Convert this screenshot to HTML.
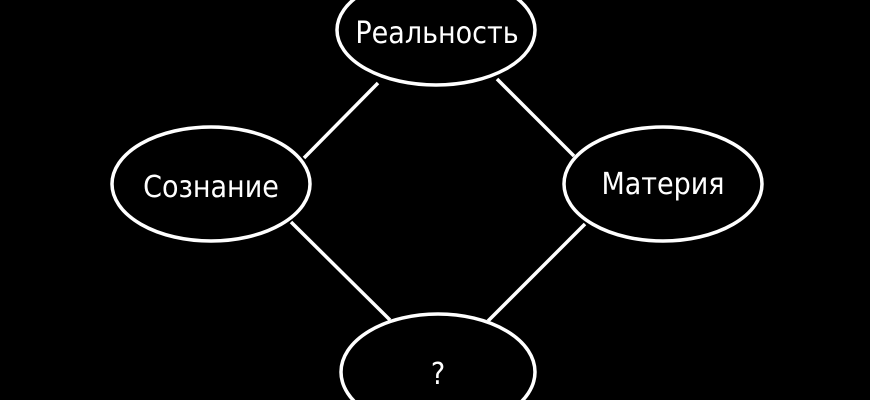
<!DOCTYPE html>
<html><head><meta charset="utf-8"><style>
html,body{margin:0;padding:0;background:#000;width:870px;height:400px;overflow:hidden}
svg{display:block}
text{font-family:"DejaVu Sans Condensed","Liberation Sans",sans-serif;fill:#fff;font-size:30px}
</style></head><body>
<svg width="870" height="400" viewBox="0 0 870 400" xmlns="http://www.w3.org/2000/svg">
<g stroke="#fff" stroke-width="3.5" fill="none">
<line x1="378" y1="83" x2="304" y2="158"/>
<line x1="497" y1="79" x2="574" y2="156"/>
<line x1="291" y1="222" x2="390" y2="320"/>
<line x1="585" y1="224" x2="488" y2="321"/>
<ellipse cx="436" cy="30" rx="99" ry="55"/>
<ellipse cx="211" cy="184" rx="99" ry="57"/>
<ellipse cx="663" cy="184" rx="99" ry="57"/>
<ellipse cx="438" cy="372" rx="97" ry="58"/>
</g>
<text x="437" y="43" text-anchor="middle">Реальность</text>
<text x="211" y="197" text-anchor="middle">Сознание</text>
<text x="663" y="194" text-anchor="middle">Материя</text>
<text x="438" y="384" text-anchor="middle">?</text>
</svg>
</body></html>
